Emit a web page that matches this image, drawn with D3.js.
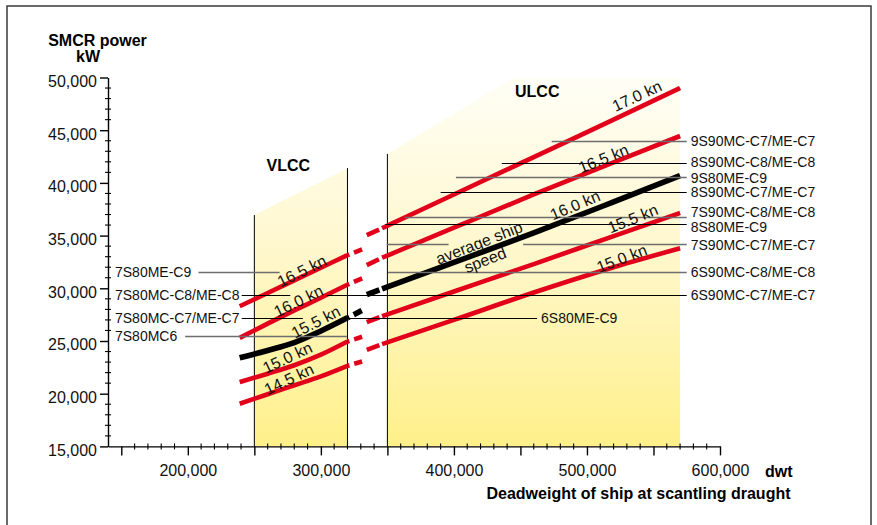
<!DOCTYPE html>
<html><head><meta charset="utf-8">
<script src="https://cdn.jsdelivr.net/npm/d3@7"></script>
<style>
html,body{margin:0;padding:0;background:#fff;}
svg{display:block;font-family:"Liberation Sans",Arial,Helvetica,sans-serif;}
</style></head><body>
<svg id="chart" width="877" height="525"></svg>
<script>
// ================= DATA =================
const xMajorTicks = [150000, 200000, 250000, 300000, 350000, 400000, 450000, 500000, 550000, 600000];
const xLabeledTicks = [200000, 300000, 400000, 500000, 600000];
const yMajorTicks = [15000, 20000, 25000, 30000, 35000, 40000, 45000, 50000];

// VLCC speed curves (kW at each dwt)
const vlccDwt = [239000, 260000, 280000, 300000, 320000];
const vlccExtDwt = 331000;
const vlcc165 = [28300, 29550, 30750, 31950, 33150];
const vlcc160 = [25300, 26650, 27900, 29100, 30350];
const vlccAvg = [23400, 24100, 24850, 25950, 27200];
const vlcc150 = [21100, 21900, 22700, 23700, 24950];
const vlcc145 = [19050, 19950, 20800, 21650, 22650];
const vlccExtKw = [33700, 30950, 27900, 25400, 23050];

// ULCC speed curves
const ulccDwt = [346000, 400000, 460000, 520000, 570000];
const ulccExtDwt = 334500;
const ulcc170 = [35700, 38900, 42450, 46000, 49000];
const ulcc165 = [32900, 35750, 38900, 41950, 44450];
const ulccAvg = [29950, 32450, 35250, 38200, 40700];
const ulcc155 = [27350, 29700, 32300, 34950, 37150];
const ulcc150 = [24700, 27000, 29600, 32000, 33800];
const ulccExtKw = [35050, 32200, 29400, 26800, 24150];

// ship size areas
const vlccArea = [[250000, 36950], [320000, 41400]];
const ulccArea = [[350000, 42750], [445000, 50000], [570000, 50000]];

// engine power lines
const engineLineKw   = [31550, 29400, 29400, 27180, 27180, 25480, 44000, 41860, 40590, 39100, 36790, 36100, 34250, 34250, 31550];
const engineLineFrom = [208000, 240500, 304500, 240500, 318000, 198000, 473500, 436000, 401500, 390000, 363000, 348500, 349500, 452000, 350500];
const engineLineTo   = [269000, 277000, 575000, 286500, 462500, 319500, 575000, 575000, 575000, 575000, 575000, 575000, 396000, 575000, 575000];

const leftEngineNames = ["7S80ME-C9", "7S80MC-C8/ME-C8", "7S80MC-C7/ME-C7", "7S80MC6"];
const leftEngineKw = [31550, 29400, 27180, 25480];
const rightEngineNames = ["9S90MC-C7/ME-C7", "8S90MC-C8/ME-C8", "9S80ME-C9", "8S90MC-C7/ME-C7",
  "7S90MC-C8/ME-C8", "8S80ME-C9", "7S90MC-C7/ME-C7", "6S90MC-C8/ME-C8", "6S90MC-C7/ME-C7"];
const rightEngineKw = [44000, 41860, 40590, 39100, 36790, 36100, 34250, 31550, 29400];
const innerEngineName = "6S80ME-C9";
const innerEngineKw = 27180;
const innerEngineDwt = 462500;
const rightLabelDwt = 575000;

const speedLabelText = ["17.0 kn", "16.5 kn", "16.0 kn", "15.5 kn", "15.0 kn", "average ship", "speed",
  "16.5 kn", "16.0 kn", "15.5 kn", "15.0 kn", "14.5 kn"];
const speedLabelDwt = [537400, 512300, 491000, 534400, 526100, 418800, 423400, 285600, 283000, 296100, 274800, 276000];
const speedLabelKw = [48270, 42330, 37900, 36640, 32850, 34330, 32690, 31670, 28820, 26830, 23450, 21400];

// ================= STYLE / LAYOUT =================
const RED = "#e2001a";
const vlccStyle = ["red", "red", "black", "red", "red"];
const ulccStyle = ["red", "red", "black", "red", "red"];
const engineLineStyle = ["gray", "black", "black", "black", "black", "gray", "gray", "black", "gray", "black", "gray", "black", "gray", "gray", "gray"];
const rightLabelNudge = [0, -1, 1, 0, -5, 3, 1, 0, 0];
const speedLabelAngle = [-25, -22, -23, -22, -21, -21.5, -21.5, -26, -26, -27, -25, -25];

const svg = d3.select("#chart");
const x = d3.scaleLinear().domain([140000, 600000]).range([108, 720]);
const y = d3.scaleLinear().domain([15000, 50000]).range([446.4, 77.5]);

const defs = svg.append("defs");
const grad = defs.append("linearGradient").attr("id", "shade")
  .attr("gradientUnits", "userSpaceOnUse")
  .attr("x1", 0).attr("x2", 0).attr("y1", y(50000)).attr("y2", y(15000));
grad.append("stop").attr("offset", 0).attr("stop-color", "#fffef6");
grad.append("stop").attr("offset", 0.45).attr("stop-color", "#fff8cf");
grad.append("stop").attr("offset", 1).attr("stop-color", "#fff08a");

// frame
svg.append("rect").attr("x", 7).attr("y", 6).attr("width", 864).attr("height", 600)
  .attr("fill", "none").attr("stroke", "#3a3a3a").attr("stroke-width", 1.5);

// shaded areas
function areaPoly(top, x0, x1) {
  const pts = [[x0, 15000], ...top, [x1, 15000]];
  return "M" + pts.map(p => x(p[0]) + "," + y(p[1])).join("L") + "Z";
}
svg.append("path").attr("d", areaPoly(vlccArea, vlccArea[0][0], vlccArea[vlccArea.length - 1][0])).attr("fill", "url(#shade)");
svg.append("path").attr("d", areaPoly(ulccArea, ulccArea[0][0], ulccArea[ulccArea.length - 1][0])).attr("fill", "url(#shade)");

// vertical boundary lines
const vLines = [vlccArea[0], vlccArea[1], ulccArea[0]];
svg.append("g").selectAll("line").data(vLines).join("line")
  .attr("x1", d => x(d[0])).attr("x2", d => x(d[0]))
  .attr("y1", d => y(d[1])).attr("y2", y(15000))
  .attr("stroke", "#000").attr("stroke-width", 1);

// speed curves
const lineGen = d3.line().x(d => x(d[0])).y(d => y(d[1])).curve(d3.curveMonotoneX);
const straight = d3.line().x(d => x(d[0])).y(d => y(d[1]));
const curvesG = svg.append("g");
const vlccSeries = [vlcc165, vlcc160, vlccAvg, vlcc150, vlcc145];
const ulccSeries = [ulcc170, ulcc165, ulccAvg, ulcc155, ulcc150];
function strokeOf(s) { return s === "black" ? "#000" : RED; }
function widthOf(s) { return s === "black" ? 5.6 : 4.6; }
vlccSeries.forEach((vals, i) => {
  const pts = vlccDwt.map((d, j) => [d, vals[j]]);
  curvesG.append("path").attr("d", lineGen(pts)).attr("fill", "none")
    .attr("stroke", strokeOf(vlccStyle[i])).attr("stroke-width", widthOf(vlccStyle[i]));
  const ext = [pts[pts.length - 1], [vlccExtDwt, vlccExtKw[i]]];
  curvesG.append("path").attr("d", straight(ext)).attr("fill", "none")
    .attr("stroke", strokeOf(vlccStyle[i])).attr("stroke-width", widthOf(vlccStyle[i]))
    .attr("stroke-dasharray", "2 5 9 60");
});
ulccSeries.forEach((vals, i) => {
  const pts = ulccDwt.map((d, j) => [d, vals[j]]);
  curvesG.append("path").attr("d", lineGen(pts)).attr("fill", "none")
    .attr("stroke", strokeOf(ulccStyle[i])).attr("stroke-width", widthOf(ulccStyle[i]));
  const ext = [[ulccExtDwt, ulccExtKw[i]], pts[0]];
  curvesG.append("path").attr("d", straight(ext)).attr("fill", "none")
    .attr("stroke", strokeOf(ulccStyle[i])).attr("stroke-width", widthOf(ulccStyle[i]))
    .attr("stroke-dasharray", "13.5 60");
});

// engine power lines
svg.append("g").selectAll("line").data(engineLineKw).join("line")
  .attr("x1", (d, i) => x(engineLineFrom[i])).attr("x2", (d, i) => x(engineLineTo[i]))
  .attr("y1", d => Math.round(y(d)) + 0.5).attr("y2", d => Math.round(y(d)) + 0.5)
  .attr("stroke", (d, i) => engineLineStyle[i] === "gray" ? "#6e6e6e" : "#000")
  .attr("stroke-width", (d, i) => engineLineStyle[i] === "gray" ? 1.6 : 1.1);

// engine labels
const labG = svg.append("g").attr("font-size", 14).attr("fill", "#111");
labG.selectAll("text.l").data(leftEngineNames).join("text").attr("class", "l")
  .attr("x", 115).attr("y", (d, i) => y(leftEngineKw[i])).attr("dy", "0.36em").text(d => d);
labG.selectAll("text.r").data(rightEngineNames).join("text").attr("class", "r")
  .attr("x", x(rightLabelDwt) + 4).attr("y", (d, i) => y(rightEngineKw[i]) + rightLabelNudge[i])
  .attr("dy", "0.36em").text(d => d);
labG.append("text").attr("x", x(innerEngineDwt) + 4).attr("y", y(innerEngineKw)).attr("dy", "0.36em").text(innerEngineName);

// speed labels
svg.append("g").attr("font-size", 16).attr("fill", "#111").selectAll("text").data(speedLabelText).join("text")
  .attr("text-anchor", "middle").attr("dy", "0.36em")
  .attr("transform", (d, i) => `translate(${x(speedLabelDwt[i])},${y(speedLabelKw[i])}) rotate(${speedLabelAngle[i]})`)
  .text(d => d);

// area titles
svg.append("text").attr("x", 266.5).attr("y", 171).attr("font-weight", "bold").attr("font-size", 16).text("VLCC");
svg.append("text").attr("x", 515).attr("y", 97).attr("font-weight", "bold").attr("font-size", 16).text("ULCC");

// axes
const fmt = d3.format(",");
const yAxisG = svg.append("g").attr("transform", "translate(108,0)")
  .call(d3.axisLeft(y).tickValues(yMajorTicks).tickSize(8).tickSizeOuter(0).tickPadding(3).tickFormat(fmt));
yAxisG.selectAll("text").attr("font-size", 16).attr("fill", "#111").attr("dy", "0.55em");
const xAxisG = svg.append("g").attr("transform", `translate(0,${y(15000)})`)
  .call(d3.axisBottom(x).tickValues(xMajorTicks).tickSize(9).tickSizeOuter(0).tickPadding(9)
    .tickFormat(d => xLabeledTicks.includes(d) ? fmt(d) : ""));
xAxisG.selectAll("text").attr("font-size", 16).attr("fill", "#111");
[yAxisG, xAxisG].forEach(g => {
  g.attr("font-family", null).attr("font-size", null);
  g.select(".domain").attr("stroke", "#000").attr("stroke-width", 1.4);
  g.selectAll(".tick line").attr("stroke", "#000").attr("stroke-width", 1.4);
});
// minor ticks
const yMinor = d3.range(15000, 50001, 1000).filter(v => v % 5000 !== 0);
svg.append("g").selectAll("line").data(yMinor).join("line")
  .attr("x1", 105).attr("x2", 111).attr("y1", d => y(d)).attr("y2", d => y(d))
  .attr("stroke", "#000").attr("stroke-width", 1.1);
const xMinor = d3.range(150000, 600001, 10000).filter(v => v % 50000 !== 0);
svg.append("g").selectAll("line").data(xMinor).join("line")
  .attr("x1", d => x(d)).attr("x2", d => x(d)).attr("y1", y(15000) - 3).attr("y2", y(15000) + 3)
  .attr("stroke", "#000").attr("stroke-width", 1.1);

// axis titles
svg.append("text").attr("x", 97.5).attr("y", 46).attr("text-anchor", "middle").attr("font-weight", "bold").attr("font-size", 16).text("SMCR power");
svg.append("text").attr("x", 88).attr("y", 62).attr("text-anchor", "middle").attr("font-weight", "bold").attr("font-size", 16).text("kW");
svg.append("text").attr("x", 765).attr("y", 476.5).attr("font-weight", "bold").attr("font-size", 16).text("dwt");
svg.append("text").attr("x", 790.5).attr("y", 499).attr("text-anchor", "end").attr("font-weight", "bold").attr("font-size", 16).text("Deadweight of ship at scantling draught");
</script>
</body></html>
